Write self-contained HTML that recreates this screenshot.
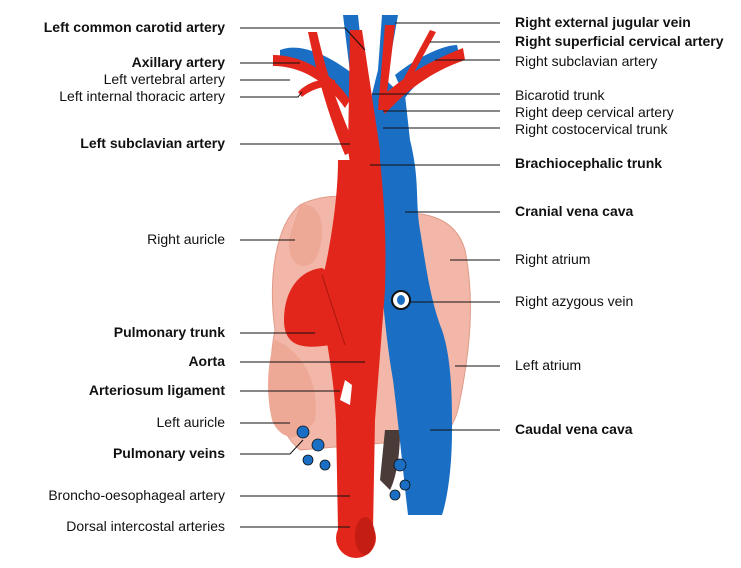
<!DOCTYPE html>
<html><head><meta charset="utf-8"><style>
html,body{margin:0;padding:0;background:#fff;}
svg{display:block;}
text{font-family:"Liberation Sans",sans-serif;font-size:14px;fill:#111;}
.b{font-weight:bold;}
</style></head><body>
<svg width="741" height="568" viewBox="0 0 741 568" xmlns="http://www.w3.org/2000/svg">
<!-- heart -->
<path d="M300,205 C330,190 370,195 390,215 C420,210 455,215 465,250 C475,300 470,350 460,400 C455,430 440,445 420,440 L300,450 C275,430 265,380 275,330 C268,280 275,225 300,205 Z" fill="#f2b7a8" stroke="#e09a88" stroke-width="1"/>
<path d="M300,205 C320,200 330,230 315,260 C300,275 285,260 290,235 Z" fill="#eea896"/>
<path d="M275,340 C300,350 320,380 315,420 C300,445 280,440 272,420 C265,390 268,360 275,340 Z" fill="#eea896"/>
<path d="M385,430 L400,430 C400,460 395,480 390,490 L380,480 Z" fill="#4a3a38"/>
<!-- blue veins -->
<path d="M343,15 L358,15 L372,150 L365,195 Z" fill="#1a6fc4"/>
<path d="M382,15 L398,15 L383,100 L378,70 Z" fill="#1a6fc4"/>
<path d="M280,50 C300,42 330,55 358,78 L365,100 L345,98 C320,78 300,68 280,66 Z" fill="#1a6fc4"/>
<path d="M395,75 C420,55 445,45 457,45 L460,58 C440,62 420,78 405,98 Z" fill="#1a6fc4"/>
<path d="M378,70 C385,80 395,90 405,95 L410,140 C420,180 415,200 420,230 C425,260 430,300 442,330 C452,360 452,400 452,430 C452,470 447,500 442,515 L408,515 C403,470 398,420 393,380 C386,340 383,300 378,250 C373,200 368,160 368,110 Z" fill="#1a6fc4"/>
<ellipse cx="401" cy="300" rx="9" ry="9" fill="#fff" stroke="#111" stroke-width="2"/>
<ellipse cx="401" cy="300" rx="4" ry="5" fill="#1a6fc4"/>
<!-- red arteries -->
<path d="M350,30 L362,30 L380,150 L380,230 L360,230 L348,150 Z" fill="#e3261b"/>
<path d="M385,25 L395,25 L385,110 L378,110 Z" fill="#e3261b"/>
<path d="M308,32 L317,32 C330,90 345,120 356,150 L345,155 C330,120 318,80 308,32 Z" fill="#e3261b"/>
<path d="M273,55 C300,55 330,70 350,100 L345,108 C325,80 300,66 273,66 Z" fill="#e3261b"/>
<path d="M298,92 C310,80 325,78 335,80 L335,86 C322,86 310,90 302,97 Z" fill="#e3261b"/>
<path d="M378,100 C400,80 420,65 463,48 L465,60 C430,72 405,92 385,114 Z" fill="#e3261b"/>
<path d="M430,30 L436,32 L410,80 L404,78 Z" fill="#e3261b"/>
<path d="M338,160 L380,160 C386,220 386,250 385,290 C382,330 378,380 375,420 L373,530 L338,530 L336,420 C334,380 328,350 325,330 L320,290 C330,250 338,200 338,160 Z" fill="#e3261b"/>
<path d="M322,268 C300,270 284,290 284,320 C284,345 300,350 330,345 L348,340 L342,280 Z" fill="#e3261b"/>
<path d="M322,275 C330,300 340,330 345,345" stroke="#a81810" stroke-width="1" fill="none"/>
<ellipse cx="356" cy="538" rx="20" ry="20" fill="#e3261b"/>
<ellipse cx="365" cy="536" rx="10" ry="19" fill="#c41d14"/>
<path d="M345,380 L340,400 L350,405 L352,385 Z" fill="#fff"/>
<!-- pulmonary veins -->
<g fill="#1a6fc4" stroke="#111" stroke-width="0.8">
<circle cx="303" cy="432" r="6"/><circle cx="318" cy="445" r="6"/><circle cx="308" cy="460" r="5"/><circle cx="325" cy="465" r="5"/>
<circle cx="400" cy="465" r="6"/><circle cx="405" cy="485" r="5"/><circle cx="395" cy="495" r="5"/>
</g>
<!-- leader lines -->
<g stroke="#111" stroke-width="1" fill="none">
<polyline points="240,28 345,28 365,50"/>
<line x1="240" y1="63" x2="300" y2="63"/>
<line x1="240" y1="80" x2="290" y2="80"/>
<polyline points="240,97 298,97 302,92"/>
<line x1="240" y1="144" x2="350" y2="144"/>
<line x1="240" y1="240" x2="295" y2="240"/>
<line x1="240" y1="333" x2="315" y2="333"/>
<line x1="240" y1="362" x2="365" y2="362"/>
<line x1="240" y1="391" x2="340" y2="391"/>
<line x1="240" y1="423" x2="290" y2="423"/>
<polyline points="240,454 290,454 303,440"/>
<line x1="240" y1="496" x2="350" y2="496"/>
<line x1="240" y1="527" x2="350" y2="527"/>
<line x1="395" y1="23" x2="500" y2="23"/>
<line x1="430" y1="42" x2="500" y2="42"/>
<line x1="435" y1="60" x2="500" y2="60"/>
<line x1="372" y1="94" x2="500" y2="94"/>
<line x1="383" y1="111" x2="500" y2="111"/>
<line x1="383" y1="128" x2="500" y2="128"/>
<line x1="370" y1="165" x2="500" y2="165"/>
<line x1="405" y1="212" x2="500" y2="212"/>
<line x1="450" y1="260" x2="500" y2="260"/>
<line x1="410" y1="302" x2="500" y2="302"/>
<line x1="455" y1="366" x2="500" y2="366"/>
<line x1="430" y1="430" x2="500" y2="430"/>
</g>
<!-- left labels -->
<g text-anchor="end">
<text x="225" y="32" class="b">Left common carotid artery</text>
<text x="225" y="67" class="b">Axillary artery</text>
<text x="225" y="84">Left vertebral artery</text>
<text x="225" y="101">Left internal thoracic artery</text>
<text x="225" y="148" class="b">Left subclavian artery</text>
<text x="225" y="244">Right auricle</text>
<text x="225" y="337" class="b">Pulmonary trunk</text>
<text x="225" y="366" class="b">Aorta</text>
<text x="225" y="395" class="b">Arteriosum ligament</text>
<text x="225" y="427">Left auricle</text>
<text x="225" y="458" class="b">Pulmonary veins</text>
<text x="225" y="500">Broncho-oesophageal artery</text>
<text x="225" y="531">Dorsal intercostal arteries</text>
</g>
<!-- right labels -->
<g>
<text x="515" y="27" class="b">Right external jugular vein</text>
<text x="515" y="46" class="b">Right superficial cervical artery</text>
<text x="515" y="66">Right subclavian artery</text>
<text x="515" y="100">Bicarotid trunk</text>
<text x="515" y="117">Right deep cervical artery</text>
<text x="515" y="134">Right costocervical trunk</text>
<text x="515" y="168" class="b">Brachiocephalic trunk</text>
<text x="515" y="216" class="b">Cranial vena cava</text>
<text x="515" y="264">Right atrium</text>
<text x="515" y="306">Right azygous vein</text>
<text x="515" y="370">Left atrium</text>
<text x="515" y="434" class="b">Caudal vena cava</text>
</g>
</svg>
</body></html>
